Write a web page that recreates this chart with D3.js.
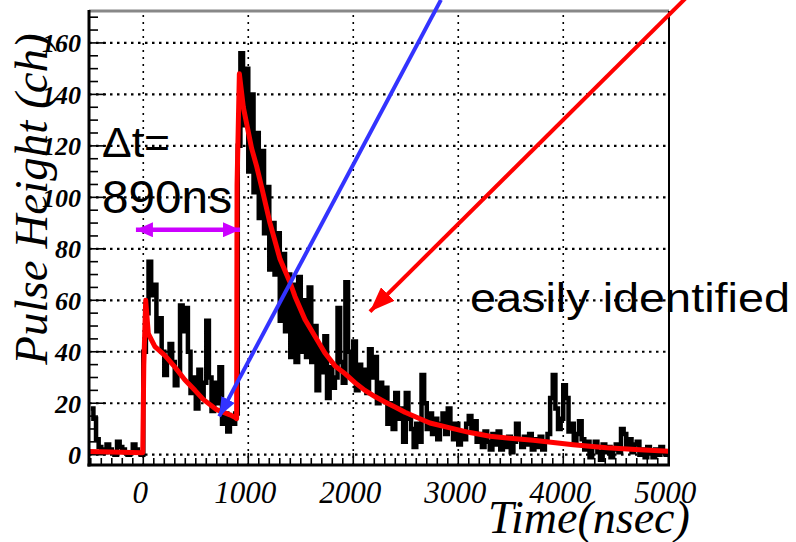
<!DOCTYPE html>
<html>
<head>
<meta charset="utf-8">
<script src="https://cdn.jsdelivr.net/npm/d3@7"></script>
<style>
  body { margin: 0; background: #fff; }
  svg { display: block; }
</style>
</head>
<body>
<div id="chart"></div>
<script>
// histogram: 25 ns bins starting at -500 ns
var binStart = -500;
var binWidth = 25;
var counts = [
  18, 14, 6, 3, 2, 1, 4, 2, 1, 0, 5, 3, 2, 1, 0, 1, 4, 2, 1, 0,
  40, 55, 75, 62, 66, 48, 53, 40, 31, 37, 43, 36, 27, 32, 58, 48, 57, 40, 24, 30,
  18, 33, 22, 28, 52, 30, 17, 28, 20, 34, 12, 16, 9, 14, 12, 16, 120, 156, 128, 150,
  110, 140, 102, 125, 92, 118, 86, 104, 72, 90, 70, 86, 52, 78, 48, 70, 38, 66, 36, 69,
  40, 60, 38, 65, 36, 50, 25, 42, 32, 46, 22, 34, 26, 30, 57, 36, 28, 67, 40, 30,
  44, 25, 35, 26, 33, 24, 41, 30, 38, 20, 28, 22, 26, 12, 20, 10, 24, 14, 18, 5,
  24, 14, 10, 3, 12, 5, 31, 20, 10, 16, 8, 14, 6, 12, 16, 8, 18, 12, 6, 12,
  4, 9, 6, 12, 15, 9, 13, 5, 8, 3, 9, 5, 2, 8, 4, 9, 2, 6, 3, 7,
  1, 5, 12, 6, 3, 7, 4, 8, 2, 6, 3, 7, 2, 5, 8, 22, 31, 18, 10, 14,
  27, 22, 9, 12, 5, 8, 13, 6, 2, 5, -1, 3, 5, 1, -2, 4, 1, 3, -1, 2,
  4, 1, 10, 8, 3, 6, 1, 4, 5, 0, 2, -1, 3, 1, -1, 2, 0, 3, 1, 0
];

// fitted curve
var fitTime = [-517, -5, 5, 23, 48, 111, 207, 302, 397, 492, 571, 699, 826, 873, 889, 893, 915, 953,
  1032, 1080, 1127, 1207, 1302, 1397, 1445, 1540, 1635, 1730, 1826, 1921, 2016, 2111, 2206, 2301,
  2397, 2492, 2635, 2730, 2921, 3111, 3302, 3492, 3714, 4095, 4413, 4730, 5007];
var fitValue = [1.2, 0.8, 35, 60, 47, 42, 38.5, 34, 29, 25, 21.5, 17.5, 15.5, 14.5, 14, 105, 148, 135,
  119, 112, 104, 90, 76, 67, 61.5, 52.5, 46, 39.5, 34.5, 31.5, 28, 25, 22.6, 20.5,
  18.5, 16.5, 14, 12.3, 10.4, 8.6, 7.2, 6.4, 5.6, 3.9, 2.7, 1.9, 1.3];

var xTicks = [0, 1000, 2000, 3000, 4000, 5000];
var yTicks = [0, 20, 40, 60, 80, 100, 120, 140, 160];

// annotations in data units [time, height]
var deltaArrow = [[-70, 87.4], [921, 87.4]];
var blueArrow = [[2835, 176.7], [723, 14.9]];
var redArrow = [[5206, 179], [2159, 55.6]];

var width = 796;
var height = 542;
var margin = {top: 11, right: 127, bottom: 77, left: 89};

var x = d3.scaleLinear().domain([-517, 5007]).range([margin.left, width - margin.right]);
var y = d3.scaleLinear().domain([-4, 172.4]).range([height - margin.bottom, margin.top]);

var serif = '"Liberation Serif", "Times New Roman", serif';
var sans = '"Liberation Sans", Arial, sans-serif';

var svg = d3.select('#chart')
  .append('svg')
  .attr('width', width)
  .attr('height', height);

var defs = svg.append('defs');
defs.append('clipPath')
  .attr('id', 'plot')
  .append('rect')
  .attr('x', x.range()[0])
  .attr('y', y.range()[1])
  .attr('width', x.range()[1] - x.range()[0])
  .attr('height', y.range()[0] - y.range()[1]);

function marker(id, color, len, w) {
  defs.append('marker')
    .attr('id', id)
    .attr('markerUnits', 'userSpaceOnUse')
    .attr('viewBox', '0 0 ' + len + ' ' + w)
    .attr('refX', len)
    .attr('refY', w / 2)
    .attr('markerWidth', len)
    .attr('markerHeight', w)
    .attr('orient', 'auto-start-reverse')
    .append('path')
    .attr('d', 'M0,0L' + len + ',' + (w / 2) + 'L0,' + w + 'Z')
    .attr('fill', color);
}
marker('headM', '#cc00ff', 17, 15);
marker('headB', '#3333ff', 19, 15);
marker('headR', '#ff0000', 25, 19);

// grid
var x0 = x.range()[0], x1 = x.range()[1], yb = y.range()[0], yt = y.range()[1];

svg.append('g')
  .selectAll('line')
  .data(yTicks)
  .enter()
  .append('line')
  .attr('x1', x0)
  .attr('x2', x1)
  .attr('y1', function(d) { return y(d); })
  .attr('y2', function(d) { return y(d); })
  .attr('stroke', '#000')
  .attr('stroke-width', 2.2)
  .attr('stroke-dasharray', '2.5,4.5');

svg.append('g')
  .selectAll('line')
  .data(xTicks.filter(function(d) { return d < 5000; }))
  .enter()
  .append('line')
  .attr('x1', function(d) { return x(d); })
  .attr('x2', function(d) { return x(d); })
  .attr('y1', yb)
  .attr('y2', yt)
  .attr('stroke', '#000')
  .attr('stroke-width', 1.6)
  .attr('stroke-dasharray', '2,5');

// tick marks
svg.append('g')
  .selectAll('line')
  .data(d3.range(0, 171, 5))
  .enter()
  .append('line')
  .attr('x1', x0)
  .attr('x2', function(d) { return x0 + (d % 20 === 0 ? 17 : 9); })
  .attr('y1', function(d) { return y(d); })
  .attr('y2', function(d) { return y(d); })
  .attr('stroke', '#000')
  .attr('stroke-width', 1.6);

svg.append('g')
  .selectAll('line')
  .data(d3.range(-500, 5001, 100))
  .enter()
  .append('line')
  .attr('x1', function(d) { return x(d); })
  .attr('x2', function(d) { return x(d); })
  .attr('y1', yb)
  .attr('y2', function(d) { return yb - (d % 1000 === 0 ? 12 : 7); })
  .attr('stroke', '#000')
  .attr('stroke-width', 1.6);

// data
var histPts = counts.map(function(c, i) { return [binStart + i * binWidth, c]; });
histPts.push([binStart + counts.length * binWidth, counts[counts.length - 1]]);

var stepLine = d3.line()
  .x(function(d) { return x(d[0]); })
  .y(function(d) { return y(d[1]); })
  .curve(d3.curveStepAfter);

var plot = svg.append('g').attr('clip-path', 'url(#plot)');

plot.append('path')
  .datum(histPts)
  .attr('d', stepLine)
  .attr('fill', 'none')
  .attr('stroke', '#000')
  .attr('stroke-width', 4.5);

var fitLine = d3.line()
  .x(function(d) { return x(d[0]); })
  .y(function(d) { return y(d[1]); });

plot.append('path')
  .datum(fitTime.map(function(t, i) { return [t, fitValue[i]]; }))
  .attr('d', fitLine)
  .attr('fill', 'none')
  .attr('stroke', '#ff0000')
  .attr('stroke-width', 5)
  .attr('stroke-linejoin', 'round');

// frame
svg.append('line')
  .attr('x1', x0).attr('x2', x1).attr('y1', yt).attr('y2', yt)
  .attr('stroke', '#888').attr('stroke-width', 3);
svg.append('line')
  .attr('x1', x1).attr('x2', x1).attr('y1', yt).attr('y2', yb)
  .attr('stroke', '#000').attr('stroke-width', 2);
svg.append('line')
  .attr('x1', x0).attr('x2', x0).attr('y1', yt - 1).attr('y2', yb + 1.5)
  .attr('stroke', '#000').attr('stroke-width', 3);
svg.append('line')
  .attr('x1', x0 - 1.5).attr('x2', x1 + 1).attr('y1', yb).attr('y2', yb)
  .attr('stroke', '#000').attr('stroke-width', 3);

// tick labels
svg.append('g')
  .selectAll('text')
  .data(yTicks)
  .enter()
  .append('text')
  .attr('x', 81)
  .attr('y', function(d) { return y(d); })
  .attr('dy', '0.36em')
  .attr('text-anchor', 'end')
  .style('font-family', serif)
  .style('font-style', 'italic')
  .style('font-weight', 'bold')
  .style('font-size', '26px')
  .text(function(d) { return d; });

svg.append('g')
  .selectAll('text')
  .data(xTicks)
  .enter()
  .append('text')
  .attr('x', function(d) { return x(d) - 3; })
  .attr('y', 503)
  .attr('text-anchor', 'middle')
  .style('font-family', serif)
  .style('font-style', 'italic')
  .style('font-size', '31px')
  .text(function(d) { return d; });

// axis titles
svg.append('text')
  .attr('transform', 'translate(47,199) rotate(-90)')
  .attr('text-anchor', 'middle')
  .style('font-family', serif)
  .style('font-style', 'italic')
  .style('font-size', '47px')
  .text('Pulse Height (ch)');

svg.append('text')
  .attr('x', 488)
  .attr('y', 533)
  .style('font-family', serif)
  .style('font-style', 'italic')
  .style('font-size', '46px')
  .text('Time(nsec)');

// annotations
var annLine = d3.line()
  .x(function(d) { return x(d[0]); })
  .y(function(d) { return y(d[1]); });

svg.append('path')
  .datum(deltaArrow)
  .attr('d', annLine)
  .attr('stroke', '#cc00ff')
  .attr('stroke-width', 4.5)
  .attr('marker-start', 'url(#headM)')
  .attr('marker-end', 'url(#headM)');

svg.append('path')
  .datum(blueArrow)
  .attr('d', annLine)
  .attr('stroke', '#3333ff')
  .attr('stroke-width', 4)
  .attr('marker-end', 'url(#headB)');

svg.append('path')
  .datum(redArrow)
  .attr('d', annLine)
  .attr('stroke', '#ff0000')
  .attr('stroke-width', 4)
  .attr('marker-end', 'url(#headR)');

svg.append('text')
  .attr('x', 102)
  .attr('y', 157)
  .attr('textLength', 68)
  .attr('lengthAdjust', 'spacingAndGlyphs')
  .style('font-family', sans)
  .style('font-size', '43px')
  .text('\u0394t=');

svg.append('text')
  .attr('x', 102)
  .attr('y', 213)
  .attr('textLength', 130)
  .attr('lengthAdjust', 'spacingAndGlyphs')
  .style('font-family', sans)
  .style('font-size', '46px')
  .text('890ns');

svg.append('text')
  .attr('x', 470)
  .attr('y', 312)
  .attr('textLength', 320)
  .attr('lengthAdjust', 'spacingAndGlyphs')
  .style('font-family', sans)
  .style('font-size', '41px')
  .text('easily identified');
</script>
</body>
</html>
